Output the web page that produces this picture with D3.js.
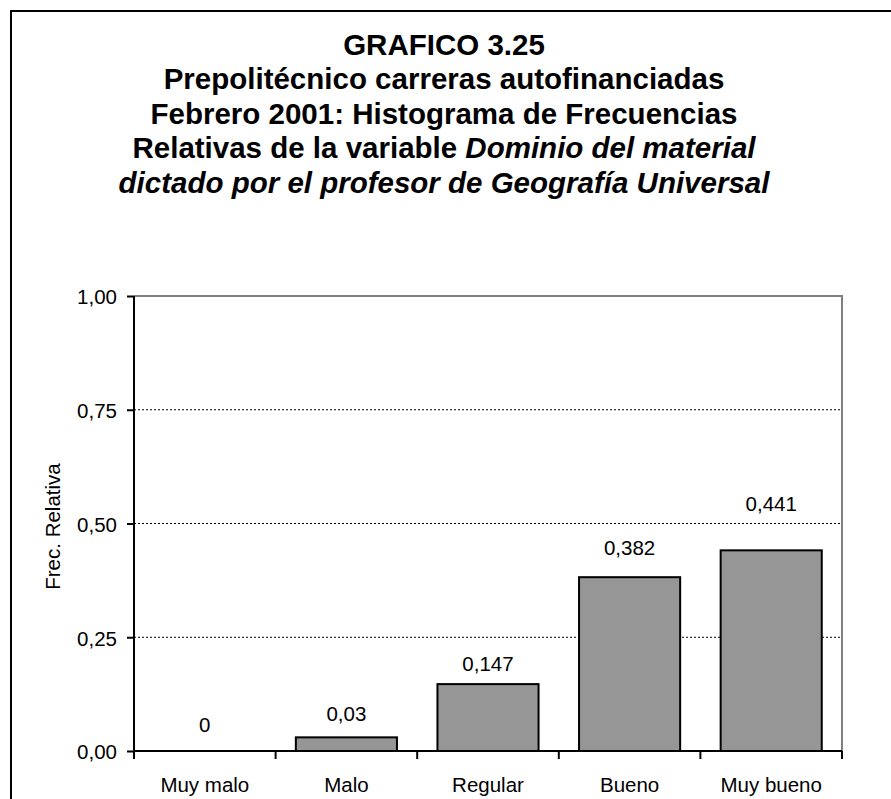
<!DOCTYPE html>
<html><head><meta charset="utf-8">
<script src="https://cdn.jsdelivr.net/npm/d3@7"></script>
<style>html,body{margin:0;padding:0;background:#fff;}svg{display:block;font-family:"Liberation Sans",Arial,sans-serif;}</style>
</head><body>
<script>
const categories = ["Muy malo", "Malo", "Regular", "Bueno", "Muy bueno"];
const values = [0, 0.03, 0.147, 0.382, 0.441];
const valueLabels = ["0", "0,03", "0,147", "0,382", "0,441"];
const yTicks = [0, 0.25, 0.5, 0.75, 1.0];
const yTickLabels = ["0,00", "0,25", "0,50", "0,75", "1,00"];
const titleLines = [
  [{t: "GRAFICO 3.25", i: false}],
  [{t: "Prepolitécnico carreras autofinanciadas", i: false}],
  [{t: "Febrero 2001: Histograma de Frecuencias", i: false}],
  [{t: "Relativas de la variable ", i: false}, {t: "Dominio del material", i: true}],
  [{t: "dictado por el profesor de Geografía Universal", i: true}]
];
const yLabel = "Frec. Relativa";

(function () {
const W = 891, H = 799;
const FS = 20.5, TFS = 29.5;
const FF = "Liberation Sans, Arial, sans-serif";
const svg = d3.select("body").append("svg").attr("width", W).attr("height", H);

// outer frame
svg.append("rect").attr("x", 11).attr("y", 11).attr("width", 900).attr("height", 900)
  .attr("fill", "none").attr("stroke", "#000").attr("stroke-width", 2);

// title
titleLines.forEach((line, k) => {
  const t = svg.append("text").attr("text-anchor", "middle").attr("x", 444).attr("y", 55 + k * 34.4)
    .attr("font-weight", "bold").attr("font-size", TFS).attr("fill", "#000");
  line.forEach(p => t.append("tspan").text(p.t).attr("font-style", p.i ? "italic" : "normal"));
});

const pl = 134, pr = 842, pt = 296, pb = 751;
const x = d3.scaleBand().domain(categories).range([pl, pr]).paddingInner(0.286).paddingOuter(0.143);
const xb = d3.scaleBand().domain(categories).range([pl, pr]);
const y = d3.scaleLinear().domain([0, 1]).range([pb, pt]);

// gridlines
svg.append("g").selectAll("line").data(yTicks.filter(v => v > 0 && v < 1)).join("line")
  .attr("x1", pl).attr("x2", pr).attr("y1", d => y(d)).attr("y2", d => y(d))
  .attr("stroke", "#000").attr("stroke-width", 1).attr("stroke-dasharray", "2,2");

// plot border top/right grey
svg.append("path").attr("d", `M${pl},${y(1)}H${pr}V${pb}`)
  .attr("fill", "none").attr("stroke", "#808080").attr("stroke-width", 2);

// bars
svg.append("g").selectAll("rect").data(values).join("rect")
  .attr("x", (d, i) => x(categories[i])).attr("width", x.bandwidth())
  .attr("y", d => y(d)).attr("height", d => y(0) - y(d))
  .attr("fill", "#969696").attr("stroke", "#000").attr("stroke-width", d => d > 0 ? 2 : 0);

// value labels
const labelLift = [26, 24, 20, 29, 47];
svg.append("g").selectAll("text").data(values).join("text")
  .attr("x", (d, i) => x(categories[i]) + x.bandwidth() / 2)
  .attr("y", (d, i) => y(d) - labelLift[i]).attr("dy", "0.35em")
  .attr("text-anchor", "middle").attr("font-size", FS).attr("fill", "#000")
  .text((d, i) => valueLabels[i]);

// y axis
const yAxis = d3.axisLeft(y).tickValues(yTicks).tickFormat((d, i) => yTickLabels[i]).tickSize(7).tickPadding(10);
const ga = svg.append("g").attr("transform", `translate(${pl},0)`).call(yAxis);
ga.select(".domain").attr("stroke", "#000").attr("stroke-width", 2).attr("d", `M0,${pt}V${pb}`);
ga.selectAll(".tick line").attr("stroke", "#000").attr("stroke-width", 2);
ga.selectAll(".tick text").attr("font-size", FS).attr("font-family", FF).attr("fill", "#000").attr("dy", "0.38em");

// x axis
const xAxis = d3.axisBottom(xb).tickSize(0);
const gx = svg.append("g").attr("transform", `translate(0,${pb})`).call(xAxis);
gx.select(".domain").attr("stroke", "#000").attr("stroke-width", 2).attr("d", `M${pl},0H${pr}`);
gx.selectAll(".tick text").attr("font-size", FS).attr("font-family", FF).attr("fill", "#000")
  .attr("y", 34).attr("dy", "0.35em");
const bounds = categories.map(c => xb(c)).concat([xb(categories[categories.length - 1]) + xb.bandwidth()]);
gx.append("g").selectAll("line").data(bounds).join("line")
  .attr("x1", d => d).attr("x2", d => d).attr("y1", 0).attr("y2", 8)
  .attr("stroke", "#000").attr("stroke-width", 2);

// y label
svg.append("text").attr("transform", `translate(60,${(pt + pb) / 2 + 3}) rotate(-90)`)
  .attr("text-anchor", "middle").attr("font-size", FS).attr("fill", "#000").text(yLabel);
})();
</script>
</body></html>
